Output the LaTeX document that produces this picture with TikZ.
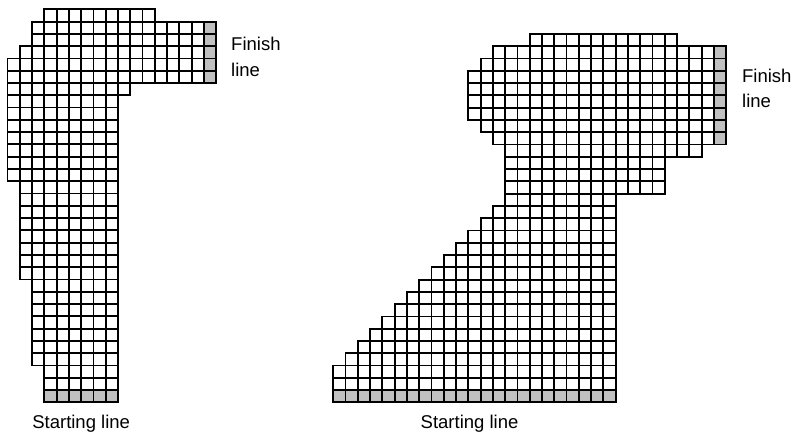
\documentclass[tikz,border=0pt]{standalone}
\usepackage{fontspec}
\setmainfont{Liberation Sans}
\usetikzlibrary{positioning}
\definecolor{linegray}{RGB}{192,192,192}
\tikzset{
  cell/.style={draw=black, line width=1.5pt, fill=white},
  linecell/.style={cell, fill=linegray},
  tracklabel/.style={font=\fontsize{15}{21}\selectfont, inner sep=0pt, align=left}
}
\begin{document}
\begin{tikzpicture}[x=0.35cm, y=-0.35cm]
\useasboundingbox (0,0) rectangle (64.58,35.75);

% left track: rows \r..\s hold columns \a..\b
\begin{scope}[shift={(0.61,0.76)}]
\foreach \r/\s/\a/\b in {0/0/3/11, 1/2/2/16, 3/3/1/16, 4/5/0/16, 6/6/0/9,
                         7/13/0/8, 14/21/1/8, 22/28/2/8, 29/31/3/8}
  \foreach \y in {\r,...,\s}
    \foreach \c in {\a,...,\b}
      \draw[cell] (\c,\y) rectangle ++(1,1);
\foreach \y in {1,...,5} \draw[linecell] (16,\y) rectangle ++(1,1);
\foreach \c in {3,...,8} \draw[linecell] (\c,31) rectangle ++(1,1);
\coordinate (finishL) at (17,1);
\coordinate (startL) at (6,32);
\end{scope}

% right track
\begin{scope}[shift={(27.14,2.77)}]
\foreach \r/\s/\a/\b in {0/0/16/27, 1/1/13/31, 2/2/12/31, 3/6/11/31, 7/7/12/31,
                         8/8/13/31, 9/9/14/29, 10/12/14/26, 13/13/14/22}
  \foreach \y in {\r,...,\s}
    \foreach \c in {\a,...,\b}
      \draw[cell] (\c,\y) rectangle ++(1,1);
% diagonal part
\foreach \y in {14,...,29} {
  \pgfmathtruncatemacro{\a}{max(0,27-\y)}
  \foreach \c in {\a,...,22}
    \draw[cell] (\c,\y) rectangle ++(1,1);
}
\foreach \y in {1,...,8} \draw[linecell] (31,\y) rectangle ++(1,1);
\foreach \c in {0,...,22} \draw[linecell] (\c,29) rectangle ++(1,1);
\coordinate (finishR) at (32,1);
\coordinate (startR) at (11.1,30);
\end{scope}

\node[tracklabel, anchor=north west] (finishtextL) at ([shift={(1.2,1.25)}]finishL) {Finish\\line};
\node[tracklabel, anchor=north] (starttextL) at ([yshift=-0.36cm]startL) {Starting line};
\node[tracklabel, anchor=north west] (finishtextR) at ([shift={(1.28,1.8)}]finishR) {Finish\\line};
\node[tracklabel, anchor=north] (starttextR) at ([yshift=-0.36cm]startR) {Starting line};
\end{tikzpicture}
\end{document}
